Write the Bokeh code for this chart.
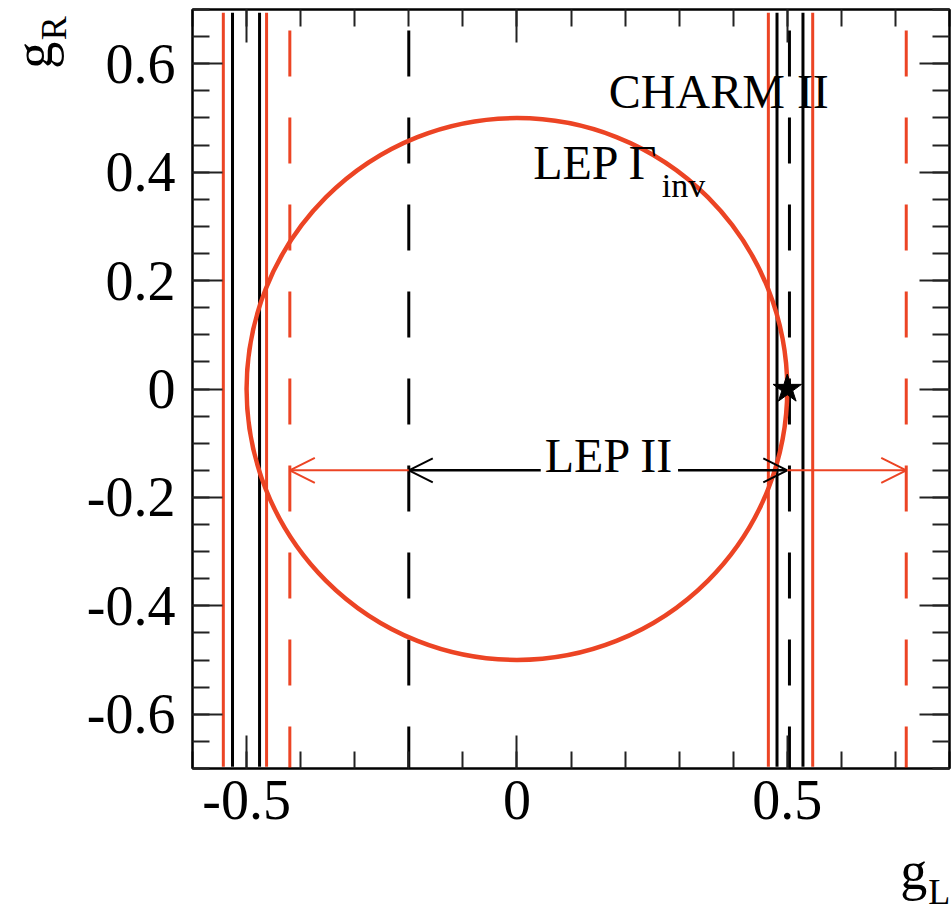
from bokeh.plotting import figure
from bokeh.models import Range1d, FixedTicker, LinearAxis, Label, Arrow, OpenHead
from bokeh.embed import file_html
from bokeh.resources import INLINE

# ---------------- data ----------------
charm2_gL = [-0.526, -0.476, 0.481, 0.529]          # CHARM II bands (black solid)
lep_inv_gL = [-0.543, -0.463, 0.465, 0.547]         # LEP Gamma_inv bands (red solid)
lep2_black_gL = [-0.2, 0.504]                       # LEP II limits (black dashed)
lep2_red_gL = [-0.42, 0.72]                         # LEP II limits (red dashed)
circle_center_gL = [0.0]
circle_center_gR = [0.0]
circle_diameter = [1.0]                             # LEP Gamma_inv circle, radius 0.5
sm_gL = [0.5]                                       # Standard Model point (star)
sm_gR = [0.0]
arrow_gR = -0.15
black_arrow_tips = [-0.2, 0.5]
red_arrow_from = [-0.2, 0.5]
red_arrow_tips = [-0.42, 0.72]
lep2_text_gL = 0.171

xtick_values = [-0.5, 0.0, 0.5]
xtick_labels = ["-0.5", "0", "0.5"]
xtick_minor = [-0.6, -0.5, -0.4, -0.3, -0.2, -0.1, 0.0, 0.1, 0.2, 0.3, 0.4, 0.5, 0.6, 0.7, 0.8]
ytick_values = [-0.6, -0.4, -0.2, 0.0, 0.2, 0.4, 0.6]
ytick_labels = ["-0.6", "-0.4", "-0.2", "0", "0.2", "0.4", "0.6"]
ytick_minor = [-0.7, -0.65, -0.6, -0.55, -0.5, -0.45, -0.4, -0.35, -0.3, -0.25, -0.2, -0.15,
               -0.1, -0.05, 0.0, 0.05, 0.1, 0.15, 0.2, 0.25, 0.3, 0.35, 0.4, 0.45, 0.5, 0.55,
               0.6, 0.65, 0.7]

RED = "#ec4424"
FONT = "Liberation Serif"

p = figure(width=951, height=915, x_range=Range1d(-0.6, 0.8), y_range=Range1d(-0.7, 0.7),
           output_backend="svg", toolbar_location=None,
           x_axis_type=None, y_axis_type=None,
           min_border_left=192, min_border_right=2, min_border_top=9, min_border_bottom=147)
p.background_fill_color = "white"
p.border_fill_color = "white"
p.outline_line_color = "black"
p.outline_line_width = 2


def make_axis(ticks, minor, labels, major_len, show_labels):
    ax = LinearAxis(ticker=FixedTicker(ticks=ticks, minor_ticks=minor))
    ax.major_tick_in = major_len
    ax.major_tick_out = 0
    ax.minor_tick_in = 17
    ax.minor_tick_out = 0
    ax.axis_line_width = 2
    ax.axis_line_color = "black"
    ax.major_tick_line_width = 2
    ax.minor_tick_line_width = 2
    ax.major_tick_line_color = "#222222"
    ax.minor_tick_line_color = "#222222"
    if show_labels:
        ax.major_label_overrides = dict(zip(ticks, labels))
        ax.major_label_text_font = FONT
        ax.major_label_text_font_size = "56px"
        ax.major_label_text_color = "black"
    else:
        ax.major_label_overrides = {t: "" for t in ticks}
        ax.major_label_text_font_size = "1px"
        ax.major_label_standoff = 0
    return ax


def title_axis(pos, text, size, standoff, orientation="horizontal"):
    # an axis without line or ticks whose single tick label is used as a title glyph
    ax = LinearAxis(ticker=FixedTicker(ticks=[pos], minor_ticks=[]))
    ax.axis_line_color = None
    ax.major_tick_line_color = None
    ax.minor_tick_line_color = None
    ax.major_tick_in = 0
    ax.major_tick_out = 0
    ax.minor_tick_in = 0
    ax.minor_tick_out = 0
    ax.major_label_overrides = {pos: text}
    ax.major_label_text_font = FONT
    ax.major_label_text_font_size = size
    ax.major_label_text_color = "black"
    ax.major_label_standoff = standoff
    ax.major_label_orientation = orientation
    return ax


xb = make_axis(xtick_values, xtick_minor, xtick_labels, 33, True)
xb.major_label_standoff = 12
yl = make_axis(ytick_values, ytick_minor, ytick_labels, 30, True)
yl.major_label_standoff = 17
xt = make_axis(xtick_values, xtick_minor, xtick_labels, 33, False)
yr = make_axis(ytick_values, ytick_minor, ytick_labels, 30, False)
p.add_layout(xb, "below")
p.add_layout(yl, "left")
p.add_layout(xt, "above")
p.add_layout(yr, "right")

# axis titles g_L (bottom right) and g_R (top left), built from tick labels
p.add_layout(title_axis(0.734, "g", "54px", 19), "below")
p.add_layout(title_axis(0.781, "L", "36px", -32), "below")
p.add_layout(title_axis(0.6654, "R", "36px", 10, "vertical"), "left")
p.add_layout(title_axis(0.6155, "g", "54px", -33, "vertical"), "left")

# dashed LEP II limits
p.segment(x0=lep2_red_gL, y0=[0.7] * len(lep2_red_gL), x1=lep2_red_gL, y1=[-0.7] * len(lep2_red_gL),
          line_color=RED, line_width=3, line_dash="46 41", line_dash_offset=66)
p.segment(x0=lep2_black_gL, y0=[0.7] * len(lep2_black_gL), x1=lep2_black_gL, y1=[-0.7] * len(lep2_black_gL),
          line_color="black", line_width=3, line_dash="46 41", line_dash_offset=66)

# solid bands
p.segment(x0=lep_inv_gL, y0=[0.694] * len(lep_inv_gL), x1=lep_inv_gL, y1=[-0.697] * len(lep_inv_gL),
          line_color=RED, line_width=3)
p.segment(x0=charm2_gL, y0=[0.694] * len(charm2_gL), x1=charm2_gL, y1=[-0.697] * len(charm2_gL),
          line_color="black", line_width=3)

# LEP Gamma_inv circle
p.ellipse(x=circle_center_gL, y=circle_center_gR, width=circle_diameter, height=circle_diameter,
          fill_color=None, line_color=RED, line_width=4.5)

# arrows
for tip in black_arrow_tips:
    p.add_layout(Arrow(x_start=lep2_text_gL, y_start=arrow_gR, x_end=tip, y_end=arrow_gR,
                       line_color="black", line_width=2.5,
                       end=OpenHead(size=24, line_color="black", line_width=2)))
for start, tip in zip(red_arrow_from, red_arrow_tips):
    p.add_layout(Arrow(x_start=start, y_start=arrow_gR, x_end=tip, y_end=arrow_gR,
                       line_color=RED, line_width=2,
                       end=OpenHead(size=25, line_color=RED, line_width=2)))

# SM star
p.scatter(sm_gL, sm_gR, marker="star", size=30, fill_color="black", line_color="black")

# texts
p.add_layout(Label(x=lep2_text_gL, y=-0.1788, text="LEP II", text_align="center",
                   text_font=FONT, text_font_size="48px", text_color="black",
                   background_fill_color="white", padding=4))
p.add_layout(Label(x=0.170, y=0.500, text="CHARM II", text_font=FONT, text_font_size="48px",
                   text_color="black"))
p.add_layout(Label(x=0.030, y=0.369, text="LEP \u0393", text_font=FONT, text_font_size="48px",
                   text_color="black"))
p.add_layout(Label(x=0.268, y=0.3415, text="inv", text_font=FONT, text_font_size="34px",
                   text_color="black"))

open("out.html", "w").write(file_html(p, INLINE))
